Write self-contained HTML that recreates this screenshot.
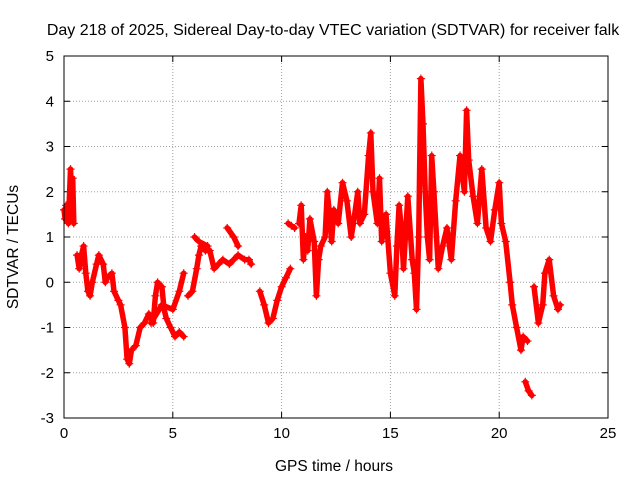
<!DOCTYPE html>
<html><head><meta charset="utf-8"><style>
body{margin:0;background:#fff;}
svg{display:block;font-family:"Liberation Sans",sans-serif;}
</style></head><body>
<svg id="chart" width="640" height="480">
<text x="333" y="35" font-size="16" text-anchor="middle">Day 218 of 2025, Sidereal Day-to-day VTEC variation (SDTVAR) for receiver falk</text>
<text x="334" y="471" font-size="15.5" text-anchor="middle">GPS time / hours</text>
<text x="18" y="247" font-size="15.5" text-anchor="middle" transform="rotate(-90 18 247)">SDTVAR / TECUs</text>
<g id="grid"></g><g id="ticks"></g><g id="marks"></g>
<rect x="64" y="56" width="544" height="362" fill="none" stroke="#000" stroke-width="1"/>
</svg>
<script>
const xTicks=[0,5,10,15,20,25];
const yTicks=[-3,-2,-1,0,1,2,3,4,5];
const hours=[0,0.05,0.1,0.2,0.3,0.35,0.4,0.45,null,0.6,0.7,0.8,0.9,1.0,1.1,1.2,1.3,1.5,1.6,1.8,1.9,2.0,2.2,2.3,2.5,2.6,2.8,2.9,3.0,3.1,3.3,3.5,3.7,3.9,4.1,4.2,4.3,4.5,4.6,4.7,4.9,5.1,5.3,5.5,null,4.0,4.5,5.0,5.3,5.5,null,5.7,5.9,6.1,6.2,6.3,6.5,6.7,6.9,7.1,7.3,7.6,7.8,8.0,8.3,8.5,8.6,null,6.0,6.2,6.6,null,7.5,7.8,8.0,null,9.0,9.2,9.4,9.6,9.8,10.0,10.2,10.4,null,10.3,10.45,10.6,null,10.8,10.9,11.0,11.1,11.2,11.3,11.5,11.6,11.7,11.8,12.0,12.1,12.2,12.3,12.4,12.6,12.8,13.0,13.2,13.3,13.5,13.6,13.8,14.0,14.1,14.2,14.4,14.5,14.6,14.8,15.0,15.2,15.3,15.4,15.5,15.6,15.8,16.0,16.1,16.2,16.3,16.4,16.5,16.6,16.7,16.8,16.9,17.0,17.2,17.4,17.6,17.8,18.0,18.2,18.4,18.5,18.6,18.8,19.0,19.2,19.4,19.6,19.8,20.0,20.1,20.3,20.5,20.6,20.8,21.0,21.1,21.3,null,21.2,21.35,21.5,null,21.6,21.8,22.0,22.1,22.3,22.5,22.7,22.8];
const sdtvar=[1.6,1.4,1.7,1.3,2.5,2.0,2.3,1.3,null,0.6,0.3,0.6,0.8,0.2,-0.2,-0.3,0.0,0.4,0.6,0.4,0.0,0.1,0.2,-0.2,-0.4,-0.5,-1.0,-1.7,-1.8,-1.5,-1.4,-1.0,-0.9,-0.7,-0.9,-0.3,0.0,-0.1,-0.6,-0.8,-1.0,-1.2,-1.1,-1.2,null,-0.9,-0.5,-0.6,-0.2,0.2,null,-0.3,-0.2,0.3,0.6,0.8,0.7,0.7,0.3,0.4,0.5,0.4,0.5,0.6,0.5,0.5,0.4,null,1.0,0.9,0.8,null,1.2,1.0,0.8,null,-0.2,-0.5,-0.9,-0.8,-0.4,-0.1,0.1,0.3,null,1.3,1.25,1.2,null,1.3,1.7,0.5,1.0,0.7,1.4,0.9,-0.3,0.5,0.8,1.0,2.0,1.5,0.9,1.6,1.3,2.2,1.8,1.0,1.3,2.0,1.3,1.5,2.8,3.3,2.0,1.3,2.3,0.9,1.5,0.2,-0.3,0.8,1.7,1.2,0.3,1.9,0.5,0.2,-0.6,1.0,4.5,3.5,2.0,1.0,0.5,2.8,2.0,0.3,0.8,1.2,0.5,1.8,2.8,2.0,3.8,2.7,1.9,1.3,2.5,1.2,0.9,1.6,2.2,1.3,0.9,0.0,-0.5,-1.0,-1.5,-1.2,-1.3,null,-2.2,-2.4,-2.5,null,-0.1,-0.9,-0.5,0.2,0.5,-0.3,-0.6,-0.5];
const X0=64,X1=608,Y0=418,Y1=56;
function xs(v){return X0+(v-0)/(25-0)*(X1-X0);}
function ys(v){return Y0-(v-(-3))/(5-(-3))*(Y0-Y1);}
const NS="http://www.w3.org/2000/svg";
const grid=document.getElementById('grid'),ticks=document.getElementById('ticks'),marks=document.getElementById('marks');
function mk(tag,attrs,parent){const e=document.createElementNS(NS,tag);for(const k in attrs)e.setAttribute(k,attrs[k]);parent.appendChild(e);return e;}
xTicks.forEach(t=>{const x=xs(t);
 if(t>0&&t<25){const g=mk('line',{x1:x,x2:x,y1:Y0,y2:Y1,stroke:'#a0a0a0','stroke-dasharray':'1,2'},grid);
 
 }
 mk('line',{x1:x,x2:x,y1:Y0,y2:Y0-6,stroke:'#000'},ticks);mk('line',{x1:x,x2:x,y1:Y1,y2:Y1+6,stroke:'#000'},ticks);
 const l=mk('text',{x:x,y:Y0+20,'font-size':15,'text-anchor':'middle'},ticks);l.textContent=t;
 
 });
yTicks.forEach(t=>{const y=ys(t);
 if(t>-3&&t<5){const g=mk('line',{x1:X0,x2:X1,y1:y,y2:y,stroke:'#a0a0a0','stroke-dasharray':'1,2'},grid);
 
 }
 mk('line',{x1:X0,x2:X0+6,y1:y,y2:y,stroke:'#000'},ticks);mk('line',{x1:X1,x2:X1-6,y1:y,y2:y,stroke:'#000'},ticks);
 const l=mk('text',{x:X0-10,y:y+5,'font-size':15,'text-anchor':'end'},ticks);l.textContent=t;
 
 });
let d='',pen=false;
for(let i=0;i<hours.length;i++){
 if(hours[i]===null||sdtvar[i]===null){pen=false;continue;}
 d+=(pen?'L':'M')+xs(hours[i]).toFixed(1)+' '+ys(sdtvar[i]).toFixed(1)+' ';pen=true;}
const path=mk('path',{d:d,fill:'none',stroke:'#f00','stroke-width':5.5,'stroke-linejoin':'round','stroke-linecap':'round'},marks);


for(let i=0;i<hours.length;i++){
 if(hours[i]===null||sdtvar[i]===null)continue;
 const x=xs(hours[i]),y=ys(sdtvar[i]);
 const p=mk('path',{d:`M${x-4} ${y}H${x+4}M${x} ${y-4}V${y+4}`,stroke:'#f00','stroke-width':1.2},marks);
 
 }
</script>
</body></html>
